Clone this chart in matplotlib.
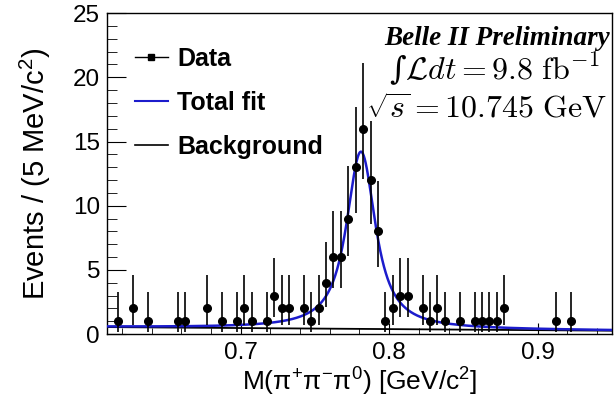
import numpy as np
import matplotlib.pyplot as plt
from matplotlib.lines import Line2D
from matplotlib.ticker import MultipleLocator

plt.rcParams['font.family'] = ['Liberation Sans', 'DejaVu Sans']
plt.rcParams['mathtext.fontset'] = 'cm'

# bin centres (GeV/c^2) and counts per 5 MeV bin
mass_bins = [0.6175, 0.6275, 0.6375, 0.6575, 0.6625, 0.6775, 0.6875, 0.6975,
             0.7025, 0.7075, 0.7175, 0.7225, 0.7275, 0.7325, 0.7425, 0.7475,
             0.7525, 0.7575, 0.7625, 0.7675, 0.7725, 0.7775, 0.7825, 0.7875,
             0.7925, 0.7975, 0.8025, 0.8075, 0.8125, 0.8225, 0.8275, 0.8325,
             0.8375, 0.8475, 0.8575, 0.8625, 0.8675, 0.8725, 0.8775, 0.9125,
             0.9225]
counts = [1, 2, 1, 1, 1, 2, 1, 1,
          2, 1, 1, 3, 2, 2, 2, 1,
          2, 4, 6, 6, 9, 13, 16, 12,
          8, 1, 2, 3, 3, 2, 1, 2,
          1, 1, 1, 1, 1, 1, 2, 1,
          1]

# Garwood (68%) Poisson intervals: n -> (down, up)
poisson_err = {1: (0.827, 2.299), 2: (1.292, 2.637), 3: (1.633, 2.918),
               4: (1.914, 3.162), 6: (2.379, 3.583), 8: (2.768, 3.945),
               9: (2.943, 4.110), 12: (3.415, 4.559), 13: (3.558, 4.697),
               16: (3.957, 5.083)}

# fit parameters
m0 = 0.781
gamma = 0.021
sigma = 0.003
peak = 13.8
bkg_left, bkg_right = 0.55, 0.27
x_lo, x_hi = 0.61, 0.95

err_lo = [poisson_err[n][0] for n in counts]
err_hi = [poisson_err[n][1] for n in counts]

# voigt by numerical convolution
step = 0.0001
xx = np.arange(x_lo - 0.2, x_hi + 0.2, step)
lor = (gamma / 2) ** 2 / ((xx - m0) ** 2 + (gamma / 2) ** 2)
kx = np.arange(-6 * sigma, 6 * sigma + step, step)
gau = np.exp(-0.5 * (kx / sigma) ** 2)
sig = np.convolve(lor, gau / gau.sum(), mode='same')
sig = sig / sig.max() * peak
bkg = bkg_left + (bkg_right - bkg_left) * (xx - x_lo) / (x_hi - x_lo)
total = sig + bkg

fig = plt.figure(figsize=(6.15, 4.09), dpi=100)
ax = fig.add_axes([0.174, 0.183, 0.821, 0.785])

ax.plot(xx, bkg, color='black', lw=1.3, zorder=2)
ax.plot(xx, total, color='#1c1ccc', lw=1.8, zorder=3)
ax.errorbar(mass_bins, counts, yerr=[err_lo, err_hi], fmt='o', color='black',
            ms=5.5, elinewidth=1.2, capsize=0, zorder=4)

ax.set_xlim(x_lo, x_hi)
ax.set_ylim(0, 25)
ax.xaxis.set_major_locator(MultipleLocator(0.1))
ax.xaxis.set_minor_locator(MultipleLocator(0.02))
ax.yaxis.set_major_locator(MultipleLocator(5))
ax.yaxis.set_minor_locator(MultipleLocator(1))
ax.tick_params(which='both', direction='in', labelsize=17.5)
ax.tick_params(axis='y', which='major', length=14, pad=5)
ax.tick_params(axis='y', which='minor', length=7)
ax.tick_params(axis='x', which='major', length=8, pad=6)
ax.tick_params(axis='x', which='minor', length=4)
for s in ax.spines.values():
    s.set_linewidth(1.0)

ax.set_xlabel(r'M($\mathregular{\pi^{+}\pi^{-}\pi^{0}}$) [GeV/c$\mathregular{^{2}}$]',
              fontsize=19, labelpad=1)
ax.set_ylabel(r'Events / (5 MeV/c$\mathregular{^{2}}$)', fontsize=21, labelpad=14)

handles = [Line2D([], [], color='black', marker='s', ms=4, lw=1),
           Line2D([], [], color='#1c1ccc', lw=1.5),
           Line2D([], [], color='black', lw=1.2)]
ax.legend(handles, ['Data', 'Total fit', 'Background'], loc='upper left',
          bbox_to_anchor=(0.01, 0.965), frameon=False, handlelength=1.35,
          handletextpad=0.35, labelspacing=0.8,
          prop={'size': 18, 'weight': 'bold'})

ax.text(0.996, 0.92, 'Belle II Preliminary', transform=ax.transAxes,
        ha='right', va='center', fontsize=19.5, family='Liberation Serif',
        weight='bold', style='italic')
ax.text(0.975, 0.825, '\u222B' + r'$\mathcal{L}dt = 9.8\ \mathrm{fb}^{-1}$',
        transform=ax.transAxes, ha='right', va='center', fontsize=23,
        family='DejaVu Serif')
ax.text(0.99, 0.70, r'$\sqrt{s} = 10.745\ \mathrm{GeV}$',
        transform=ax.transAxes, ha='right', va='center', fontsize=23)

fig.savefig('out.png', dpi=100)
